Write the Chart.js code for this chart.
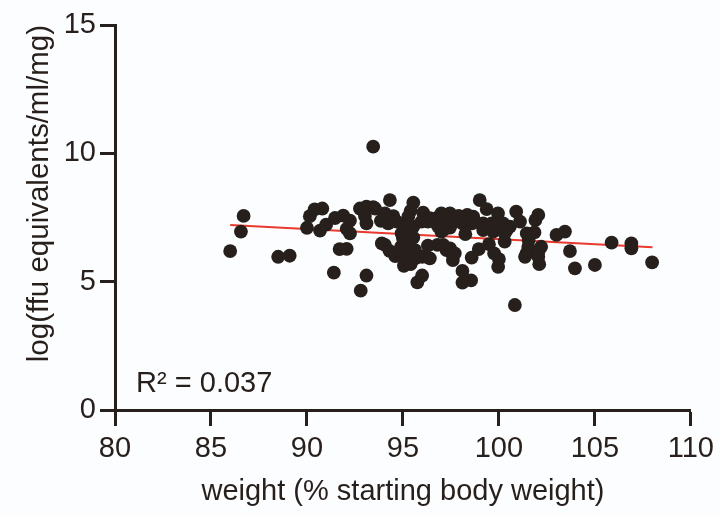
<!DOCTYPE html>
<html>
<head>
<meta charset="utf-8">
<script src="https://cdn.jsdelivr.net/npm/chart.js@4/dist/chart.umd.min.js"></script>
<style>
  html, body { margin: 0; padding: 0; background: #fcfdfe; }
  #wrap { width: 720px; height: 515px; }
</style>
</head>
<body>
<div id="wrap"><canvas id="myChart" width="720" height="515"></canvas></div>
<script>
// DATA
var weightPct = [
    93.45, 86.7, 86.56, 86.0, 88.5, 89.1, 90.0, 90.15, 90.4, 90.8,
    90.68, 91.0, 91.46, 91.89, 92.24, 92.07, 92.24, 91.7, 92.07, 91.4,
    93.1, 92.8, 92.76, 93.1, 93.45, 93.02, 93.1, 93.9, 94.32, 93.55,
    93.85, 94.5, 94.06, 94.23, 94.67, 94.06, 94.3, 94.6, 95.54, 95.4,
    96.05, 95.28, 95.15, 95.54, 95.0, 95.54, 94.93, 95.28, 94.9, 95.3,
    95.63, 95.19, 95.63, 95.05, 95.4, 95.75, 96.0, 96.0, 96.4, 96.3,
    96.8, 97.1, 96.4, 96.75, 95.97, 96.3, 96.75, 97.0, 97.45, 97.19,
    97.54, 97.0, 97.45, 96.84, 97.1, 97.27, 97.6, 97.6, 97.45, 97.7,
    97.9, 98.35, 98.66, 98.1, 98.6, 98.25, 98.1, 98.1, 98.55, 98.58,
    99.0, 99.36, 98.95, 99.48, 99.27, 99.18, 99.62, 99.18, 99.7, 99.95,
    99.92, 100.22, 100.57, 100.3, 99.75, 100.0, 99.96, 100.4, 100.3, 100.9,
    100.83, 101.44, 101.9, 101.1, 101.55, 102.1, 102.05, 101.85, 101.45, 102.2,
    101.53, 102.05, 101.36, 102.05, 103.0, 103.44, 103.7, 103.96, 105.0, 105.87,
    106.9, 106.9, 107.98
];
var logFfu = [
    10.26, 7.56, 6.95, 6.19, 5.97, 6.01, 7.1, 7.55, 7.82, 7.85,
    6.99, 7.22, 7.48, 7.57, 7.38, 7.06, 6.88, 6.27, 6.28, 5.35,
    5.24, 4.65, 7.85, 7.92, 7.9, 7.56, 7.27, 6.49, 8.18, 7.85,
    7.37, 7.55, 7.66, 7.27, 7.34, 6.43, 6.2, 6.0, 8.08, 7.76,
    7.69, 7.53, 7.14, 7.14, 6.69, 6.72, 6.88, 6.88, 6.36, 6.3,
    6.23, 5.97, 5.91, 5.62, 5.68, 4.97, 5.24, 5.97, 5.91, 6.4,
    6.43, 6.43, 7.47, 7.27, 7.34, 7.34, 7.47, 7.66, 7.66, 7.53,
    7.27, 6.95, 7.11, 7.14, 7.01, 6.23, 6.04, 5.84, 6.3, 6.1,
    7.56, 7.6, 7.53, 7.27, 7.27, 6.85, 5.42, 4.96, 5.05, 5.94,
    8.18, 7.83, 6.27, 6.46, 7.08, 7.27, 7.27, 7.01, 6.95, 7.66,
    7.24, 7.27, 7.14, 6.88, 6.1, 5.88, 5.58, 7.01, 6.56, 7.73,
    4.09, 6.1, 7.4, 7.34, 6.62, 5.68, 7.6, 6.92, 6.88, 6.36,
    6.36, 6.14, 5.97, 5.97, 6.82, 6.95, 6.19, 5.52, 5.65, 6.52,
    6.49, 6.3, 5.75
];

// fitted line
var fitX = [86, 108];
var fitY = [7.21, 6.34];

var xTicks = [80, 85, 90, 95, 100, 105, 110];
var yTicks = [0, 5, 10, 15];

//-----------------------------------------------------------------
//CHART
var ink = '#261f1b';
var fontName = '"Liberation Sans", Arial, sans-serif';
Chart.defaults.font.family = fontName;
Chart.defaults.color = ink;

var points = weightPct.map((w, i) => ({ x: w, y: logFfu[i] }));
var fitPoints = fitX.map((w, i) => ({ x: w, y: fitY[i] }));

// R squared label in the lower left of the plot
const rLabel = {
    id: 'rLabel',
    afterDraw(chart) {
        const ctx = chart.ctx;
        const xs = chart.scales.x, ys = chart.scales.y;
        ctx.save();
        ctx.fillStyle = ink;
        ctx.font = '29px ' + fontName;
        ctx.textBaseline = 'alphabetic';
        ctx.textAlign = 'left';
        ctx.fillText('R\u00B2 = 0.037', xs.getPixelForValue(81.1), ys.getPixelForValue(0.7));
        ctx.restore();
    }
};

const ctxs = document.getElementById('myChart').getContext('2d');

const myChart = new Chart(ctxs, {
    type: 'scatter',
    data: {
        datasets: [
            {
                label: 'samples',
                data: points,
                pointRadius: 6.9,
                pointHoverRadius: 6.9,
                pointBackgroundColor: ink,
                pointBorderColor: ink,
                pointBorderWidth: 0,
            },
            {
                label: 'fit',
                type: 'line',
                data: fitPoints,
                borderColor: '#e8392c',
                borderWidth: 2,
                pointRadius: 0,
                fill: false,
            },
        ],
    },
    options: {
        responsive: false,
        animation: false,
        layout: {
            padding: { top: 25, right: 29, left: 0, bottom: 0 },
        },
        plugins: {
            legend: { display: false },
            tooltip: { enabled: false },
        },
        scales: {
            x: {
                type: 'linear',
                min: 80,
                max: 110,
                afterFit: (s) => { s.height = 105; },
                afterBuildTicks: (s) => { s.ticks = xTicks.map(v => ({ value: v })); },
                border: { display: true, color: ink, width: 3 },
                grid: {
                    drawOnChartArea: false,
                    drawTicks: true,
                    tickLength: 16,
                    tickWidth: 3,
                    tickColor: ink,
                },
                ticks: {
                    color: ink,
                    padding: 6,
                    maxRotation: 0,
                    font: { size: 29 },
                },
                title: {
                    display: true,
                    text: 'weight (% starting body weight)',
                    color: ink,
                    font: { size: 29 },
                    padding: { top: 0, bottom: 6 },
                },
            },
            y: {
                type: 'linear',
                min: 0,
                max: 15,
                afterFit: (s) => { s.width = 115; },
                afterBuildTicks: (s) => { s.ticks = yTicks.map(v => ({ value: v })); },
                border: { display: true, color: ink, width: 3 },
                grid: {
                    drawOnChartArea: false,
                    drawTicks: true,
                    tickLength: 15,
                    tickWidth: 3,
                    tickColor: ink,
                },
                ticks: {
                    color: ink,
                    padding: 4,
                    font: { size: 29 },
                },
                title: {
                    display: true,
                    text: 'log(ffu equivalents/ml/mg)',
                    align: 'end',
                    color: ink,
                    font: { size: 29.5 },
                    padding: { top: 22, bottom: 0 },
                },
            },
        },
    },
    plugins: [rLabel],
});
</script>
</body>
</html>
